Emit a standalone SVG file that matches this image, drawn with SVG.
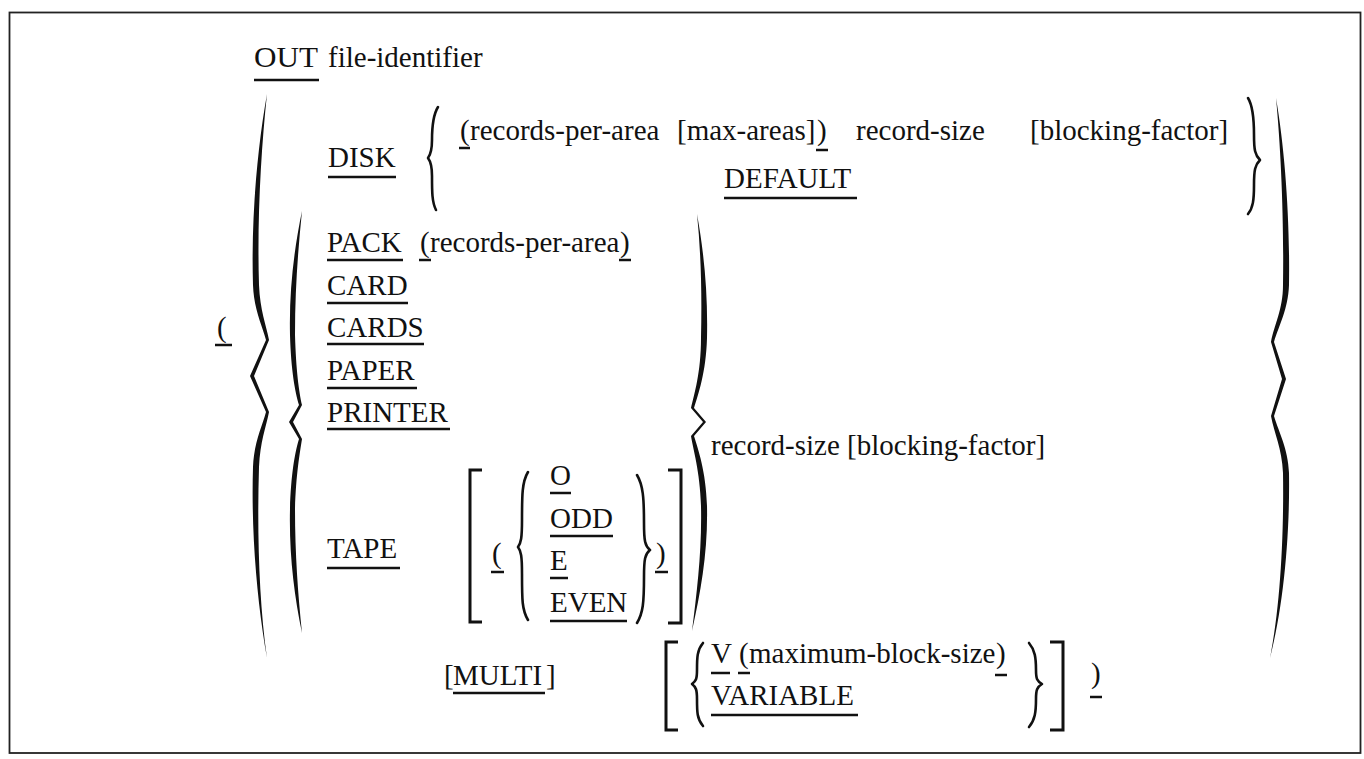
<svg xmlns="http://www.w3.org/2000/svg" width="1364" height="759" viewBox="0 0 1364 759">
<style>
text{font-family:"Liberation Serif","Times New Roman",serif;font-size:29px;fill:#111}
.u{stroke:#111;stroke-width:2.5}
.br{fill:none;stroke:#111;stroke-width:2.6;stroke-linecap:round;stroke-linejoin:round}
.bk{fill:none;stroke:#111;stroke-width:3}
.big{fill:#111}
</style>
<rect x="9.5" y="12.5" width="1351" height="740.5" fill="#fff" stroke="#222" stroke-width="1.8"/>

<g id="header">
<text x="254" y="67" textLength="64" lengthAdjust="spacingAndGlyphs">OUT</text>
<line class="u" x1="254" y1="80" x2="319" y2="80"/>
<text x="328" y="67">file-identifier</text>
</g>

<g id="disk">
<text x="328" y="167">DISK</text>
<line class="u" x1="328" y1="177" x2="396" y2="177"/>
<path class="br" d="M438,107 C433,115 432,125 432,140 C432,150 431,154 428,158 C431,162 432,166 432,176 C432,192 432,202 436,210"/>
<text x="460" y="140">(</text>
<line class="u" x1="459" y1="148" x2="470" y2="148"/>
<text x="470" y="140">records-per-area</text>
<text x="677" y="140">[max-areas]</text>
<text x="817" y="140">)</text>
<line class="u" x1="816" y1="150" x2="828" y2="150"/>
<text x="856" y="140">record-size</text>
<text x="1030" y="140">[blocking-factor]</text>
<text x="724" y="188">DEFAULT</text>
<line class="u" x1="724" y1="198" x2="857" y2="198"/>
<path class="br" d="M1248,98 C1253,106 1254,118 1254,135 C1254,150 1255,155 1260,160 C1255,165 1254,170 1254,185 C1254,200 1253,208 1248,214"/>
</g>

<g id="outer-open">
<text x="217" y="337">(</text>
<line class="u" x1="215" y1="345" x2="232" y2="345"/>
<path class="big" d="M267,94 C257,150 251,220 253,285 C254,310 262,325 266,340 L250,376 L266,412 C262,427 254,442 253,467 C251,532 257,602 267,658 C259,602 257,532 259,467 C260,442 266,427 269,412 L254,376 L269,340 C266,325 260,310 259,285 C257,220 261,150 267,94 Z"/>
<path class="big" d="M302,211 C294,250 289,290 290,335 C291,370 295,392 299,405 L289,422 L299,439 C295,452 291,474 290,509 C289,554 294,594 302,633 C298,594 295,554 295,509 C296,474 300,452 302,439 L293,422 L302,405 C299,392 296,370 295,335 C295,290 298,250 302,211 Z"/>
</g>

<g id="devices">
<text x="327" y="252">PACK</text>
<line class="u" x1="327" y1="260" x2="403" y2="260"/>
<text x="420" y="252">(</text>
<line class="u" x1="419" y1="260" x2="431" y2="260"/>
<text x="430" y="252">records-per-area</text>
<text x="620" y="252">)</text>
<line class="u" x1="619" y1="260" x2="631" y2="260"/>
<text x="327" y="295">CARD</text>
<line class="u" x1="327" y1="303" x2="408" y2="303"/>
<text x="327" y="337">CARDS</text>
<line class="u" x1="327" y1="344" x2="424" y2="344"/>
<text x="327" y="380">PAPER</text>
<line class="u" x1="327" y1="388" x2="417" y2="388"/>
<text x="327" y="422">PRINTER</text>
<line class="u" x1="327" y1="429" x2="450" y2="429"/>
</g>

<g id="tape">
<text x="327" y="558">TAPE</text>
<line class="u" x1="327" y1="568" x2="400" y2="568"/>
<path class="bk" d="M482,470 L470,470 L470,622 L482,622"/>
<text x="492" y="563">(</text>
<line class="u" x1="491" y1="572" x2="504" y2="572"/>
<path class="br" d="M528,472 C522,482 522,495 522,520 C522,538 521,543 518,547 C521,551 522,556 522,574 C522,600 522,610 528,620"/>
<text x="550" y="485">O</text>
<line class="u" x1="550" y1="493" x2="571" y2="493"/>
<text x="550" y="528">ODD</text>
<line class="u" x1="550" y1="536" x2="613" y2="536"/>
<text x="550" y="570">E</text>
<line class="u" x1="550" y1="578" x2="568" y2="578"/>
<text x="550" y="612">EVEN</text>
<line class="u" x1="550" y1="621" x2="627" y2="621"/>
<path class="br" d="M637,475 C643,485 644,498 644,523 C644,541 645,546 650,550 C645,554 644,559 644,577 C644,603 643,613 637,623"/>
<text x="656" y="563">)</text>
<line class="u" x1="655" y1="572" x2="668" y2="572"/>
<path class="bk" d="M668,470 L681,470 L681,623 L668,623"/>
</g>

<g id="record-size">
<path class="big" d="M697,214 C704,253 708,293 707,338 C706,373 698,395 694,408 L706,422 L694,436 C698,449 706,471 707,506 C708,551 701,591 692,631 C697,591 702,551 701,506 C700,471 693,449 691,436 L703,422 L691,408 C694,395 701,373 701,338 C702,293 701,253 697,214 Z"/>
<text x="711" y="455">record-size [blocking-factor]</text>
</g>

<g id="multi">
<text x="444" y="685">[</text>
<text x="453" y="685">MULTI</text>
<text x="546" y="685">]</text>
<line class="u" x1="453" y1="693" x2="545" y2="693"/>
</g>

<g id="variable">
<path class="bk" d="M678,642 L666,642 L666,730 L678,730"/>
<path class="br" d="M703,643 C697,650 697,658 697,670 C697,679 696,681 692,684 C696,687 697,690 697,699 C697,712 697,719 703,726"/>
<text x="711" y="663">V</text>
<line class="u" x1="711" y1="673" x2="730" y2="673"/>
<text x="739" y="663">(</text>
<line class="u" x1="738" y1="673" x2="750" y2="673"/>
<text x="749" y="663">maximum-block-size</text>
<text x="996" y="663">)</text>
<line class="u" x1="995" y1="675" x2="1007" y2="675"/>
<text x="711" y="705">VARIABLE</text>
<line class="u" x1="711" y1="715" x2="858" y2="715"/>
<path class="br" d="M1029,643 C1035,650 1036,658 1036,670 C1036,679 1037,681 1042,684 C1037,687 1036,690 1036,699 C1036,712 1035,720 1029,727"/>
<path class="bk" d="M1050,642 L1063,642 L1063,730 L1050,730"/>
<text x="1091" y="683">)</text>
<line class="u" x1="1090" y1="697" x2="1102" y2="697"/>
</g>

<g id="outer-close">
<path class="big" d="M1276,98 C1285,150 1290,220 1289,285 C1288,310 1279,325 1274,342 L1286,379 L1274,416 C1279,433 1288,448 1289,473 C1290,538 1283,608 1270,658 C1280,608 1284,538 1283,473 C1282,448 1274,433 1271,416 L1282,379 L1271,342 C1274,325 1283,310 1283,285 C1284,220 1281,150 1276,98 Z"/>
</g>
</svg>
